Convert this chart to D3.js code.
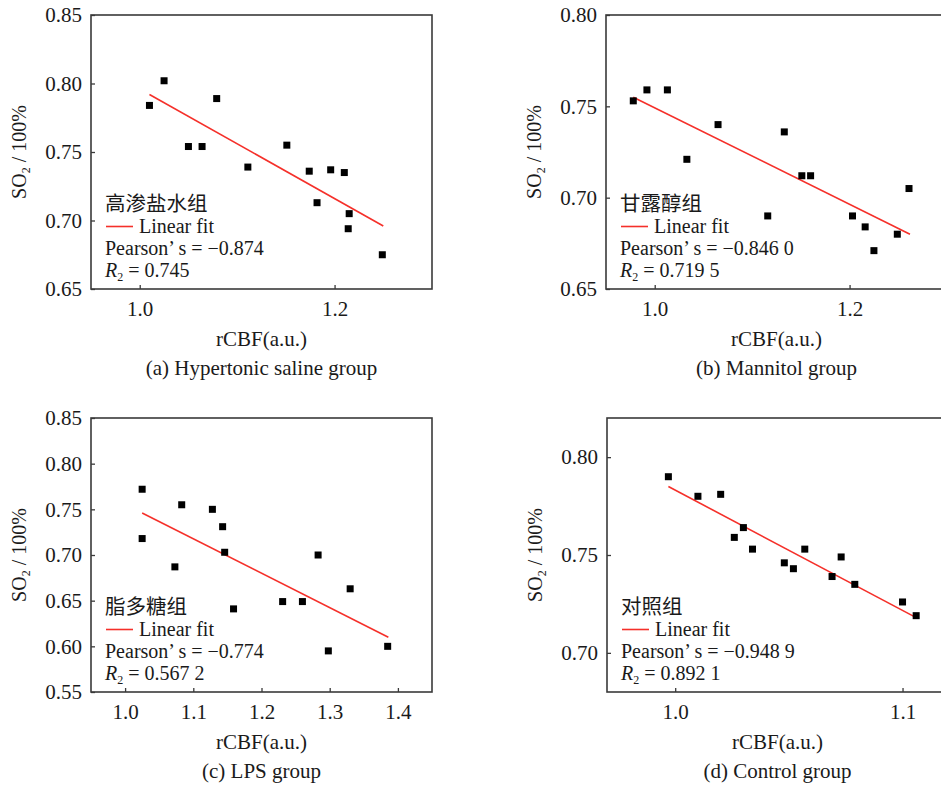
<!DOCTYPE html>
<html>
<head>
<meta charset="utf-8">
<script src="https://cdn.jsdelivr.net/npm/d3@7"></script>
<style>
  body { margin: 0; background: #fff; }
  svg { display: block; }
  text { font-family: 'Liberation Serif', 'Times New Roman', serif; fill: #1a1a1a; }
  .cjk { font-family: 'Noto Sans CJK SC', sans-serif; }
</style>
</head>
<body>
<svg width="941" height="785"></svg>
<script>
// (a) hypertonic saline
const aX = [1.010, 1.025, 1.050, 1.064, 1.079, 1.111, 1.151, 1.174, 1.182, 1.196, 1.210, 1.215, 1.214, 1.249];
const aY = [0.784, 0.802, 0.754, 0.754, 0.789, 0.739, 0.755, 0.736, 0.713, 0.737, 0.735, 0.705, 0.694, 0.675];
const aFitX = [1.010, 1.250];
const aFitY = [0.792, 0.696];

// (b) mannitol
const bX = [0.978, 0.992, 1.013, 1.033, 1.065, 1.116, 1.133, 1.151, 1.160, 1.203, 1.216, 1.225, 1.249, 1.261];
const bY = [0.753, 0.759, 0.759, 0.721, 0.740, 0.690, 0.736, 0.712, 0.712, 0.690, 0.684, 0.671, 0.680, 0.705];
const bFitX = [0.978, 1.262];
const bFitY = [0.755, 0.680];

// (c) LPS
const cX = [1.025, 1.025, 1.073, 1.083, 1.128, 1.143, 1.146, 1.159, 1.231, 1.260, 1.283, 1.298, 1.330, 1.385];
const cY = [0.772, 0.718, 0.687, 0.755, 0.750, 0.731, 0.703, 0.641, 0.649, 0.649, 0.700, 0.595, 0.663, 0.600];
const cFitX = [1.025, 1.386];
const cFitY = [0.746, 0.610];

// (d) control
const dX = [0.997, 1.010, 1.020, 1.026, 1.030, 1.034, 1.048, 1.052, 1.057, 1.069, 1.073, 1.079, 1.100, 1.106];
const dY = [0.790, 0.780, 0.781, 0.759, 0.764, 0.753, 0.746, 0.743, 0.753, 0.739, 0.749, 0.735, 0.726, 0.719];
const dFitX = [0.997, 1.106];
const dFitY = [0.785, 0.718];

// axes
const xDomains = [[0.95, 1.30], [0.95, 1.30], [0.95, 1.45], [0.97, 1.12]];
const yDomains = [[0.65, 0.85], [0.65, 0.80], [0.55, 0.85], [0.68, 0.82]];
const xTicks = [[1.0, 1.2], [1.0, 1.2], [1.0, 1.1, 1.2, 1.3, 1.4], [1.0, 1.1]];
const yTicks = [
  [0.65, 0.70, 0.75, 0.80, 0.85],
  [0.65, 0.70, 0.75, 0.80],
  [0.55, 0.60, 0.65, 0.70, 0.75, 0.80, 0.85],
  [0.70, 0.75, 0.80]
];

// texts
const groupNames = ['高渗盐水组', '甘露醇组', '脂多糖组', '对照组'];
const pearsonValues = ['−0.874', '−0.846 0', '−0.774', '−0.948 9'];
const r2Values = ['0.745', '0.719 5', '0.567 2', '0.892 1'];
const captions = ['(a) Hypertonic saline group', '(b) Mannitol group', '(c) LPS group', '(d) Control group'];

const panels = [
  { xs: aX, ys: aY, fx: aFitX, fy: aFitY, left: 91, top: 15 },
  { xs: bX, ys: bY, fx: bFitX, fy: bFitY, left: 606, top: 15 },
  { xs: cX, ys: cY, fx: cFitX, fy: cFitY, left: 91, top: 418 },
  { xs: dX, ys: dY, fx: dFitX, fy: dFitY, left: 607, top: 418 }
];

const svg = d3.select('svg');
const plotW = 341;
const plotH = 274;
const markSize = 7;
const fs = 21;
const legendFs = 20;

panels.forEach((p, i) => {
  const g = svg.append('g').attr('transform', `translate(${p.left},${p.top})`);

  const xScale = d3.scaleLinear().domain(xDomains[i]).range([0, plotW]);
  const yScale = d3.scaleLinear().domain(yDomains[i]).range([plotH, 0]);

  // inward ticks
  const yAxis = d3.axisLeft(yScale)
    .tickValues(yTicks[i])
    .tickFormat(d3.format('.2f'))
    .tickSizeInner(-4)
    .tickSizeOuter(0)
    .tickPadding(9);
  const xAxis = d3.axisBottom(xScale)
    .tickValues(xTicks[i])
    .tickFormat(d3.format('.1f'))
    .tickSizeInner(-4)
    .tickSizeOuter(0)
    .tickPadding(12);

  const yAxisG = g.append('g').call(yAxis);
  const xAxisG = g.append('g').attr('transform', `translate(0,${plotH})`).call(xAxis);
  [yAxisG, xAxisG].forEach(ax => {
    ax.select('.domain').remove();
    ax.selectAll('line').attr('stroke', '#3a3a3a').attr('stroke-width', 1.3);
    ax.selectAll('text')
      .attr('font-size', fs)
      .attr('font-family', "'Liberation Serif', 'Times New Roman', serif")
      .attr('fill', '#1a1a1a');
  });

  // frame
  g.append('rect')
    .attr('width', plotW)
    .attr('height', plotH)
    .attr('fill', 'none')
    .attr('stroke', '#3a3a3a')
    .attr('stroke-width', 1.6);

  // fit line
  g.append('line')
    .attr('x1', xScale(p.fx[0]))
    .attr('y1', yScale(p.fy[0]))
    .attr('x2', xScale(p.fx[1]))
    .attr('y2', yScale(p.fy[1]))
    .attr('stroke', '#f5302a')
    .attr('stroke-width', 1.6);

  // points
  g.selectAll('rect.pt').data(d3.range(p.xs.length))
    .enter().append('rect')
    .attr('class', 'pt')
    .attr('x', j => xScale(p.xs[j]) - markSize / 2)
    .attr('y', j => yScale(p.ys[j]) - markSize / 2)
    .attr('width', markSize)
    .attr('height', markSize)
    .attr('fill', '#000');

  // legend block
  g.append('text')
    .attr('class', 'cjk')
    .attr('x', 14)
    .attr('y', plotH - 78)
    .attr('font-size', 20.5)
    .text(groupNames[i]);
  g.append('line')
    .attr('x1', 15).attr('x2', 42)
    .attr('y1', plotH - 62.5).attr('y2', plotH - 62.5)
    .attr('stroke', '#f5302a')
    .attr('stroke-width', 1.6);
  g.append('text')
    .attr('x', 48)
    .attr('y', plotH - 56)
    .attr('font-size', legendFs)
    .text('Linear fit');
  g.append('text')
    .attr('x', 14)
    .attr('y', plotH - 34)
    .attr('font-size', legendFs)
    .text(`Pearson’ s = ${pearsonValues[i]}`);
  const r2 = g.append('text')
    .attr('x', 14)
    .attr('y', plotH - 12)
    .attr('font-size', legendFs);
  r2.append('tspan').attr('font-style', 'italic').text('R');
  r2.append('tspan').attr('font-size', 12).attr('dy', 4).text('2');
  r2.append('tspan').attr('dy', -4).text(' = ' + r2Values[i]);

  // y title
  const yTitle = g.append('text')
    .attr('transform', `translate(-65,${plotH / 2}) rotate(-90)`)
    .attr('text-anchor', 'middle')
    .attr('font-size', 20);
  yTitle.append('tspan').text('SO');
  yTitle.append('tspan').attr('font-size', 12).attr('dy', 4).text('2');
  yTitle.append('tspan').attr('dy', -4).text(' / 100%');

  // x title and caption
  g.append('text')
    .attr('x', plotW / 2)
    .attr('y', plotH + 57)
    .attr('text-anchor', 'middle')
    .attr('font-size', fs)
    .text('rCBF(a.u.)');
  g.append('text')
    .attr('x', plotW / 2)
    .attr('y', plotH + 86)
    .attr('text-anchor', 'middle')
    .attr('font-size', fs)
    .text(captions[i]);
});
</script>
</body>
</html>
